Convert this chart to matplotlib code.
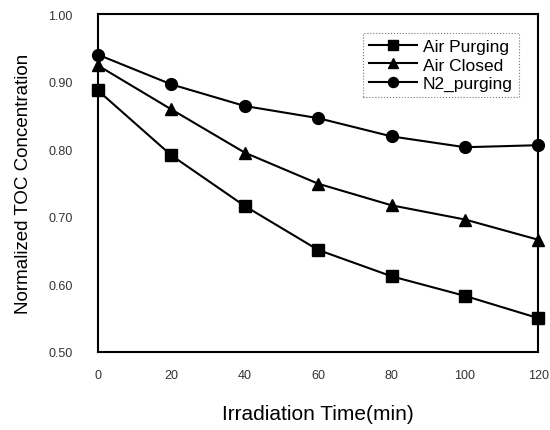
import matplotlib.pyplot as plt

time_min = [0, 20, 40, 60, 80, 100, 120]
air_purging = [0.887, 0.791, 0.716, 0.651, 0.612, 0.583, 0.550]
air_closed = [0.924, 0.859, 0.795, 0.749, 0.717, 0.696, 0.666]
n2_purging = [0.940, 0.896, 0.864, 0.846, 0.819, 0.803, 0.806]

series = [("Air Purging", air_purging, "s"),
          ("Air Closed", air_closed, "^"),
          ("N2_purging", n2_purging, "o")]

plt.rcParams["font.family"] = "Liberation Sans"

fig = plt.figure(figsize=(5.5, 4.31), dpi=100)
ax = fig.add_axes([0.178, 0.181, 0.801, 0.784])

for name, vals, mk in series:
    ax.plot(time_min, vals, color="black", lw=1.5, marker=mk, ms=8.5,
            label=name, clip_on=False, zorder=3)

ax.set_xlim(0, 120)
ax.set_ylim(0.5, 1.0)
ax.set_xticks(time_min)
ax.set_yticks([0.5, 0.6, 0.7, 0.8, 0.9, 1.0])
ax.set_yticklabels(["0.50", "0.60", "0.70", "0.80", "0.90", "1.00"])
ax.tick_params(length=0, labelsize=9, colors="#333333")
ax.tick_params(axis="x", pad=12)
ax.tick_params(axis="y", pad=18)
for sp in ax.spines.values():
    sp.set_linewidth(1.5)

ax.set_ylabel("Normalized TOC Concentration", fontsize=13.5, labelpad=12)
ax.set_xlabel("Irradiation Time(min)", fontsize=15, labelpad=17)

leg = ax.legend(loc="upper right", bbox_to_anchor=(0.955, 0.945), fontsize=12.5,
                handlelength=2.8, handletextpad=0.3, labelspacing=0.2,
                markerscale=0.85, fancybox=False, borderpad=0.35,
                borderaxespad=0)
leg.get_frame().set_edgecolor("#555555")
leg.get_frame().set_linestyle(":")
leg.get_frame().set_linewidth(0.8)

fig.savefig("out.png", dpi=100)
